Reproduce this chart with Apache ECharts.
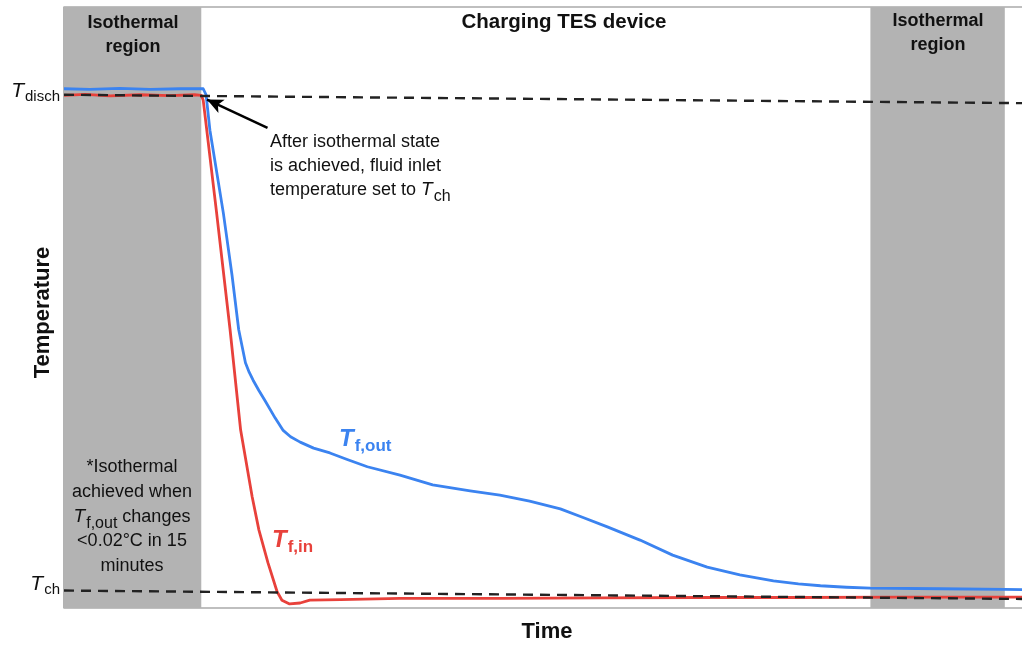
<!DOCTYPE html>
<html>
<head>
<meta charset="utf-8">
<script src="https://cdn.jsdelivr.net/npm/echarts@6/dist/echarts.min.js"></script>
<style>
html,body{margin:0;padding:0;background:#fff;}
#chart{width:1022px;height:646px;}
</style>
</head>
<body>
<div id="chart"></div>
<script>
// ---- data (normalised time 0-100, normalised temperature 0-100) ----
const tfOutTime = [0,2.7,5.8,9.0,12.1,14.5,14.8,15.2,16.6,17.5,18.2,18.9,19.3,19.7,20.3,20.9,22.0,22.8,23.6,24.6,26.0,27.7,29.5,31.6,35.0,38.4,42.3,45.4,48.5,51.7,54.0,56.6,60.0,63.4,67.0,70.4,73.9,76.5,78.8,81.5,84.0,91.3,98.0,100];
const tfOutTemp = [86.4,86.3,86.45,86.3,86.4,86.4,85.4,79.5,65.7,55.4,46.3,40.8,39.2,37.9,36.2,34.6,31.6,29.6,28.5,27.6,26.6,25.8,24.7,23.5,22.1,20.5,19.5,18.8,17.8,16.5,15.1,13.5,11.3,8.8,6.8,5.5,4.5,4.0,3.7,3.45,3.3,3.2,3.1,3.05];
const tfInTime = [0,2.2,4.8,7.9,11.0,13.6,14.3,14.5,15.9,17.3,18.4,19.6,20.3,21.25,22.2,22.7,23.5,24.6,25.6,28.8,35.0,45.4,55.8,66.3,76.7,87.1,100];
const tfInTemp = [85.3,85.45,85.2,85.4,85.25,85.4,85.3,84.5,65.7,46.3,29.6,18.5,13.0,7.5,2.7,1.3,0.67,0.83,1.3,1.4,1.6,1.6,1.7,1.75,1.75,1.8,1.8];
const tDischLine = [[0,85.4],[100,84.0]];
const tChLine = [[0,2.9],[100,1.5]];
const isoRegions = [[0,14.3],[84.0,98.0]];
const yTickValues = [86.0, 4.0];
const yTickLabels = ['{t|T}{s|disch}', '{t|T}{s|ch}'];

const FONT = '"Liberation Sans", Arial, sans-serif';
const BLUE = '#3b83f0';
const RED = '#e8413b';

const zip = (a,b)=>a.map((v,i)=>[v,b[i]]);

const chart = echarts.init(document.getElementById('chart'), null, {renderer:'canvas'});
const option = {
  animation:false,
  textStyle:{fontFamily:FONT},
  grid:{left:64, top:7, width:960, height:601, containLabel:false, outerBoundsMode:'none',
    show:true, borderColor:'#808080', borderWidth:1.2, backgroundColor:'transparent'},
  xAxis:{type:'value', min:0, max:100, axisLine:{show:false}, axisTick:{show:false}, axisLabel:{show:false}, splitLine:{show:false},
    name:'Time', nameLocation:'middle', nameGap:13, nameMoveOverlap:false,
    nameTextStyle:{fontFamily:FONT, fontSize:22, fontWeight:'bold', color:'#111', verticalAlign:'top', padding:[0,0,0,6]}},
  yAxis:{type:'value', min:0, max:100, axisLine:{show:false}, axisTick:{show:false}, splitLine:{show:false},
    axisLabel:{show:true, customValues:yTickValues, margin:4,
      formatter:(v)=>{const i=yTickValues.indexOf(v); return i>=0?yTickLabels[i]:'';},
      rich:{
        t:{fontFamily:FONT, fontSize:21, fontStyle:'italic', color:'#111'},
        s:{fontFamily:FONT, fontSize:15, color:'#111', padding:[12,0,0,1]}
      }},
    name:'Temperature', nameLocation:'middle', nameGap:21, nameRotate:90, nameMoveOverlap:false,
    nameTextStyle:{fontFamily:FONT, fontSize:22, fontWeight:'bold', color:'#111', verticalAlign:'middle', padding:[0,10,0,0]}},
  series:[
    {type:'line', name:'Tf,out', data:zip(tfOutTime,tfOutTemp), showSymbol:false, z:3,
      lineStyle:{color:BLUE, width:2.8, join:'round'}, itemStyle:{color:BLUE},
      markArea:{silent:true, itemStyle:{color:'#b3b3b3', opacity:1},
        data: isoRegions.map(r=>[{xAxis:r[0]},{xAxis:r[1]}])},
      markLine:{silent:true, symbol:['none','arrow'], symbolSize:[11,16],
        lineStyle:{color:'#000', width:2.5, type:'solid'}, label:{show:false},
        data:[[{coord:[21.2,79.9]},{coord:[14.9,84.6]}]]}
    },
    {type:'line', name:'Tf,in', data:zip(tfInTime,tfInTemp), showSymbol:false, z:4,
      lineStyle:{color:RED, width:2.8, join:'round'}, itemStyle:{color:RED}},
    {type:'line', data:tDischLine, showSymbol:false, z:5, lineStyle:{color:'#222', width:2.4, type:[10,7]}},
    {type:'line', data:tChLine, showSymbol:false, z:5, lineStyle:{color:'#222', width:2.4, type:[10,7]}}
  ],
  graphic:[
    {type:'text', x:133, y:11, z:10, style:{text:'Isothermal\nregion', align:'center', verticalAlign:'top', font:'bold 18px '+FONT, fill:'#111', lineHeight:24}},
    {type:'text', x:938, y:9, z:10, style:{text:'Isothermal\nregion', align:'center', verticalAlign:'top', font:'bold 18px '+FONT, fill:'#111', lineHeight:24}},
    {type:'text', x:564, y:10, z:10, style:{text:'Charging TES device', align:'center', verticalAlign:'top', font:'bold 20.5px '+FONT, fill:'#111', lineHeight:24}},
    {type:'text', x:270, y:130, z:10, style:{text:'After isothermal state\nis achieved, fluid inlet\ntemperature set to {t|T}{s|ch}', font:'18px '+FONT, fill:'#111', lineHeight:24,
      rich:{t:{font:'italic 19px '+FONT, fill:'#111', lineHeight:24}, s:{font:'16px '+FONT, fill:'#111', padding:[13,0,0,1]}}}},
    {type:'text', x:132, y:455, z:10, style:{text:'*Isothermal\nachieved when\n{t|T}{s|f,out} changes\n<0.02°C in 15\nminutes', align:'center', verticalAlign:'top', font:'18px '+FONT, fill:'#111', lineHeight:24.7,
      rich:{t:{font:'italic 19px '+FONT, fill:'#111', lineHeight:24.7}, s:{font:'16px '+FONT, fill:'#111', padding:[13,0,0,1]}}}},
    {type:'text', x:339, y:423, z:10, style:{text:'{t|T}{s|f,out}', rich:{t:{font:'italic bold 24px '+FONT, fill:BLUE}, s:{font:'bold 17px '+FONT, fill:BLUE, padding:[15,0,0,1]}}}},
    {type:'text', x:272, y:524, z:10, style:{text:'{t|T}{s|f,in}', rich:{t:{font:'italic bold 24px '+FONT, fill:RED}, s:{font:'bold 17px '+FONT, fill:RED, padding:[15,0,0,1]}}}}
  ]
};
chart.setOption(option);
</script>
</body>
</html>
